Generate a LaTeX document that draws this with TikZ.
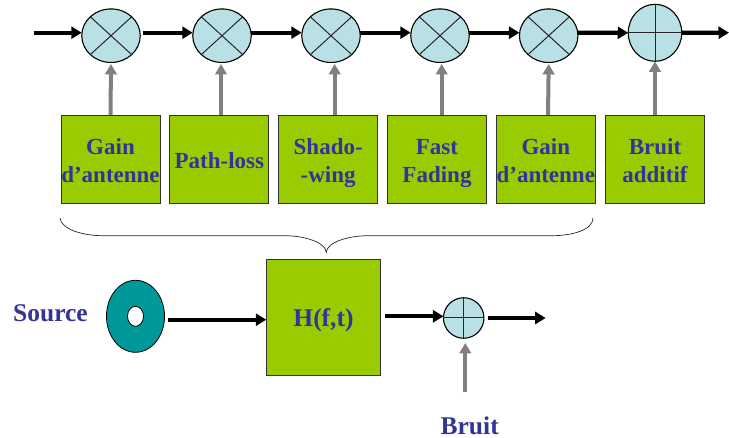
\documentclass[tikz,border=0pt]{standalone}
\usepackage{fontspec}
\setmainfont{Liberation Serif}
\usetikzlibrary{arrows.meta,shapes.geometric}
\definecolor{txtblue}{HTML}{333399}
\definecolor{boxgreen}{HTML}{99CC00}
\definecolor{opblue}{HTML}{B9E0E4}
\definecolor{srcteal}{HTML}{009999}
\definecolor{linegray}{HTML}{808080}
\newcommand{\twolines}[2]{\rule{0pt}{24pt}#1\\#2\rule[-5pt]{0pt}{5pt}}
\tikzset{
  lbl/.style={font=\fontsize{23}{28}\selectfont\bfseries, text=txtblue, inner sep=0pt, align=center},
  biglbl/.style={lbl, font=\fontsize{25.5}{28}\selectfont\bfseries},
  gbox/.style={lbl, rectangle, draw=black!80, line width=0.9pt, fill=boxgreen, minimum width=99pt, minimum height=88pt, outer sep=0pt},
  opx/.style={ellipse, draw=black, line width=1.1pt, fill=opblue, inner sep=0pt, outer sep=0pt, minimum width=58.5pt, minimum height=53.5pt},
  opp/.style={opx, minimum width=53.5pt, minimum height=57pt},
  opc/.style={opx, minimum width=40.5pt, minimum height=40.5pt},
  sig/.style={line width=4.2pt, black, -{Triangle[length=10.5pt,width=12pt]}},
  ctl/.style={line width=4pt, linegray, -{Triangle[length=10.5pt,width=11.5pt]}},
  xline/.style={line width=1pt, black!85},
}
\begin{document}
\begin{tikzpicture}[x=1pt,y=-1pt]
\useasboundingbox (0,0) rectangle (729,438);
% operators
\foreach \n/\x in {m1/111,m2/222,m3/331,m4/440,m5/548.7}{
  \node[opx] (\n) at (\x,35.7) {};
  \draw[xline] (\n.north west) -- (\n.south east) (\n.north east) -- (\n.south west);
}
\node[opp] (p1) at (655,32.8) {};
\draw[xline] (p1.north) -- (p1.south) (p1.west) -- (p1.east);
% boxes
\node[gbox] (b1) at (110.5,159) {\twolines{Gain}{d’antenne}};
\node[gbox] (b2) at (219.4,159) {\rule{0pt}{19pt}Path-loss};
\node[gbox] (b3) at (328.2,159) {\twolines{Shado-}{-wing}};
\node[gbox] (b4) at (437,159) {\twolines{Fast}{Fading}};
\node[gbox] (b5) at (545.8,159) {\twolines{Gain}{d’antenne}};
\node[gbox] (b6) at (655,159) {\twolines{Bruit}{additif}};
% top chain
\coordinate (in) at (34,32.7);
\coordinate (out) at (729,32.7);
\draw[sig] (in) -- ([yshift=3pt]m1.west);
\draw[sig] ([xshift=2.7pt,yshift=3pt]m1.east) -- ([yshift=3pt]m2.west);
\draw[sig] ([yshift=3pt]m2.east) -- ([yshift=3pt]m3.west);
\draw[sig] ([yshift=3pt]m3.east) -- ([yshift=3pt]m4.west);
\draw[sig] ([yshift=3pt]m4.east) -- ([yshift=3pt]m5.west);
\draw[sig] ([yshift=3pt]m5.east) -- (p1.west);
\draw[sig] (p1.east) -- (out);
% control arrows
\draw[ctl] (b1.north) -- ([yshift=-1.5pt]m1.south);
\draw[ctl] ([xshift=1.6pt]b2.north) -- ([yshift=-1.5pt,xshift=-1pt]m2.south);
\draw[ctl] ([xshift=6.5pt]b3.north) -- ([xshift=3.7pt,yshift=-1.5pt]m3.south);
\draw[ctl] ([xshift=4.7pt]b4.north) -- ([xshift=1.7pt,yshift=-1.5pt]m4.south);
\draw[ctl] ([xshift=2.2pt]b5.north) -- ([yshift=-1.5pt]m5.south);
\draw[ctl] (b6.north) -- (p1.south);
% brace
\draw[line width=0.7pt, black!85] (60,218) .. controls (61,229) and (82,235.7) .. (103,235.7)
  -- (285,235.7) .. controls (303,235.7) and (326,242) .. (326.3,252.5)
  .. controls (326.6,242) and (349,235.7) .. (368,235.7)
  -- (552,235.7) .. controls (572,235.7) and (593,230) .. (593,218);
% lower part
\node[biglbl, anchor=base] (src) at (50.5,321.7) {Source};
\node[ellipse, draw=black, line width=0.8pt, fill=srcteal, minimum width=58pt, minimum height=72pt, inner sep=0pt, outer sep=0pt] (donut) at (135.5,316.3) {};
\node[ellipse, draw=black, line width=0.8pt, fill=white, minimum width=16pt, minimum height=20pt, inner sep=0pt] (hole) at (135.5,316.3) {};
\node[gbox, biglbl, minimum width=114.4pt, minimum height=116pt] (h) at (323.5,317) {\rule{0pt}{24pt}H(f,t)};
\node[opc] (p2) at (463.7,318) {};
\draw[xline] (p2.north) -- (p2.south) (p2.west) -- (p2.east);
\coordinate (out2) at (545.7,318);
\coordinate (bstart) at (465.3,392.3);
\node[biglbl, anchor=base] (bruit) at (469.7,434.5) {Bruit};
\draw[sig] ([xshift=3.5pt,yshift=-3.4pt]donut.east) -- ([yshift=-2.7pt]h.west);
\draw[sig] ([xshift=4.3pt,yshift=0.7pt]h.east) -- ([yshift=1.7pt]p2.west);
\draw[sig] ([xshift=4.5pt]p2.east) -- (out2);
\draw[ctl] (bstart) -- ([xshift=1.6pt,yshift=-4.7pt]p2.south);
\end{tikzpicture}
\end{document}
